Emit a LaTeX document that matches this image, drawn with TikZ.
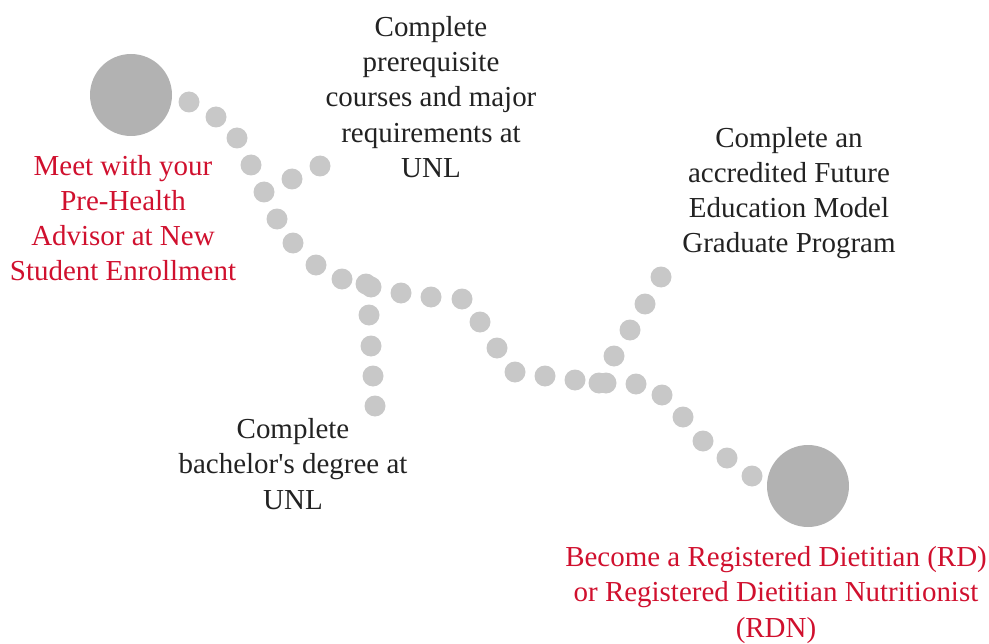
\documentclass[tikz,border=0pt]{standalone}
\usepackage{fontspec}
\setmainfont{Liberation Serif}
\usetikzlibrary{%
  positioning,% wg. " of "
  calc%
}
\definecolor{unlred}{RGB}{208,16,46}
\definecolor{dotgray}{RGB}{200,200,200}
\definecolor{biggray}{RGB}{178,178,178}
\definecolor{txtgray}{RGB}{34,34,34}
\tikzset{
  steptext/.style={align=center,inner sep=0pt,text=txtgray,
    font=\fontsize{20.6}{25}\selectfont},
  goaltext/.style={steptext,text=unlred},
  bigdot/.style={circle,fill=biggray,minimum size=82*0.025cm,inner sep=0pt},
}

\begin{document}
\begin{tikzpicture}[
  x=0.025cm,y=-0.025cm,
]
\useasboundingbox (0,0) rectangle (989,644);

\node[bigdot] (start) at (131,95) {};
\node[bigdot] (finish) at (808,486) {};

% main trail
\foreach \x/\y in {189/102,216/117,237/138,251/165,264/192,277/219,293/243,
  316/265,342/279,366/284,371/287,401/293,431/297,462/299,480/322,497/348,
  515/372,545/376,575/380,599/383,606/383,636/384,662/395,683/417,703/441,
  727/458,752/476} {
  \fill[dotgray] (\x,\y) circle (10.5);
}
% branch to prerequisites
\foreach \x/\y in {292/179,320/166} {
  \fill[dotgray] (\x,\y) circle (10.5);
}
% branch to bachelor
\foreach \x/\y in {369/315,371/346,373/376,375/406} {
  \fill[dotgray] (\x,\y) circle (10.5);
}
% branch to graduate program
\foreach \x/\y in {614/356,630/330,645/304,661/277} {
  \fill[dotgray] (\x,\y) circle (10.5);
}

\node[goaltext] (advisor) at (123,218) {Meet with your\\Pre-Health\\Advisor at New\\Student Enrollment};
\node[steptext] (prereq) at (431,97) {Complete\\prerequisite\\courses and major\\requirements at\\UNL};
\node[steptext] (fem) at (789,193) {Complete an\\accredited Future\\Education Model\\Graduate Program};
\node[steptext] (bacc) at (293,464) {Complete\\bachelor\textquotesingle s degree at\\UNL};
\node[goaltext] (rdn) at (776,595) {Become a Registered Dietitian (RD)\\or Registered Dietitian Nutritionist\\(RDN)};

\end{tikzpicture}
\end{document}
